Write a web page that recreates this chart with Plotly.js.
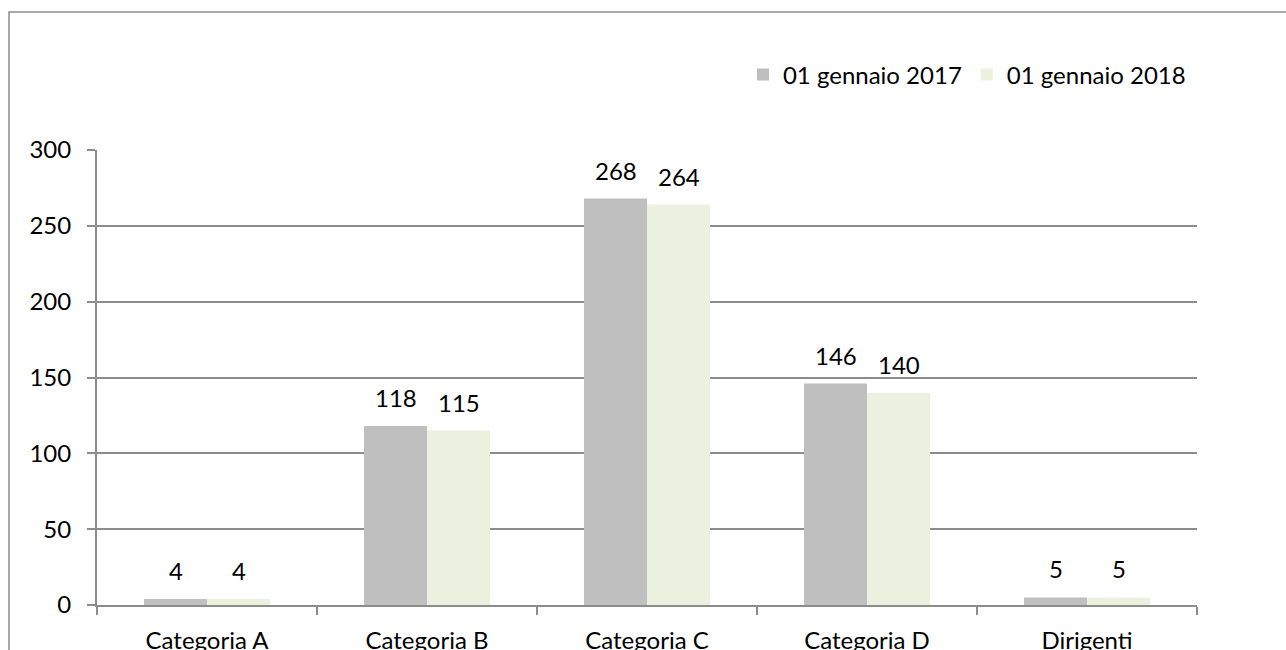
<!DOCTYPE html>
<html>
<head>
<meta charset="utf-8">
<script src="https://cdn.plot.ly/plotly-3.0.1.min.js"></script>
<style>
html,body{margin:0;padding:0;background:#fff;}
#chart{width:1286px;height:650px;}
</style>
</head>
<body>
<div id="chart"></div>
<script>
var categories = ["Categoria A", "Categoria B", "Categoria C", "Categoria D", "Dirigenti"];
var series2017Name = "01 gennaio 2017";
var series2018Name = "01 gennaio 2018";
var values2017 = [4, 118, 268, 146, 5];
var values2018 = [4, 115, 264, 140, 5];
var yTicks = [0, 50, 100, 150, 200, 250, 300];

var FONT = "Lato, 'Open Sans', sans-serif";
var FS = 24;
var gridColor = "#8c8c8c";

var traces = [
  {type: "bar", name: series2017Name, x: categories, y: values2017,
   marker: {color: "#bfbfbf"}, hoverinfo: "none"},
  {type: "bar", name: series2018Name, x: categories, y: values2018,
   marker: {color: "#ebf1de"}, hoverinfo: "none"}
];

var annotations = [];
categories.forEach(function(c, i) {
  annotations.push({x: c, y: values2017[i], text: String(values2017[i]), showarrow: false,
    xshift: -31.5, yshift: 12, yanchor: "bottom", font: {family: FONT, size: FS, color: "#000"}});
  annotations.push({x: c, y: values2018[i], text: String(values2018[i]), showarrow: false,
    xshift: 31.5, yshift: 12, yanchor: "bottom", font: {family: FONT, size: FS, color: "#000"}});
});

var layout = {
  width: 1286, height: 650,
  margin: {l: 97, r: 89, t: 150, b: 45},
  paper_bgcolor: "#fff", plot_bgcolor: "#fff",
  font: {family: FONT, size: FS, color: "#000"},
  barmode: "group",
  bargap: 0.427,
  bargroupgap: 0,
  showlegend: true,
  legend: {orientation: "h", x: 0.9945, xanchor: "right", y: 1.165, yanchor: "middle",
           font: {family: FONT, size: FS, color: "#000"}, bgcolor: "rgba(0,0,0,0)"},
  xaxis: {type: "category", showline: true, linecolor: gridColor, linewidth: 2,
          ticks: "outside", tickson: "boundaries", ticklen: 8, tickcolor: gridColor, tickwidth: 2,
          showgrid: false, ticklabelstandoff: 13, fixedrange: true},
  yaxis: {range: [0, 300], tickvals: yTicks, showline: true, linecolor: gridColor, linewidth: 2,
          ticks: "outside", ticklen: 8, tickcolor: gridColor, tickwidth: 2,
          showgrid: true, gridcolor: gridColor, gridwidth: 2, zeroline: false,
          ticklabelstandoff: 11, fixedrange: true},
  annotations: annotations,
  shapes: [{type: "rect", xref: "paper", yref: "paper",
            x0: -0.08, x1: 1.2, y0: -0.3, y1: 1.3033,
            line: {color: gridColor, width: 1.5}, fillcolor: "rgba(0,0,0,0)", layer: "below"}]
};

Plotly.newPlot("chart", traces, layout, {displayModeBar: false, staticPlot: true});
</script>
</body>
</html>
